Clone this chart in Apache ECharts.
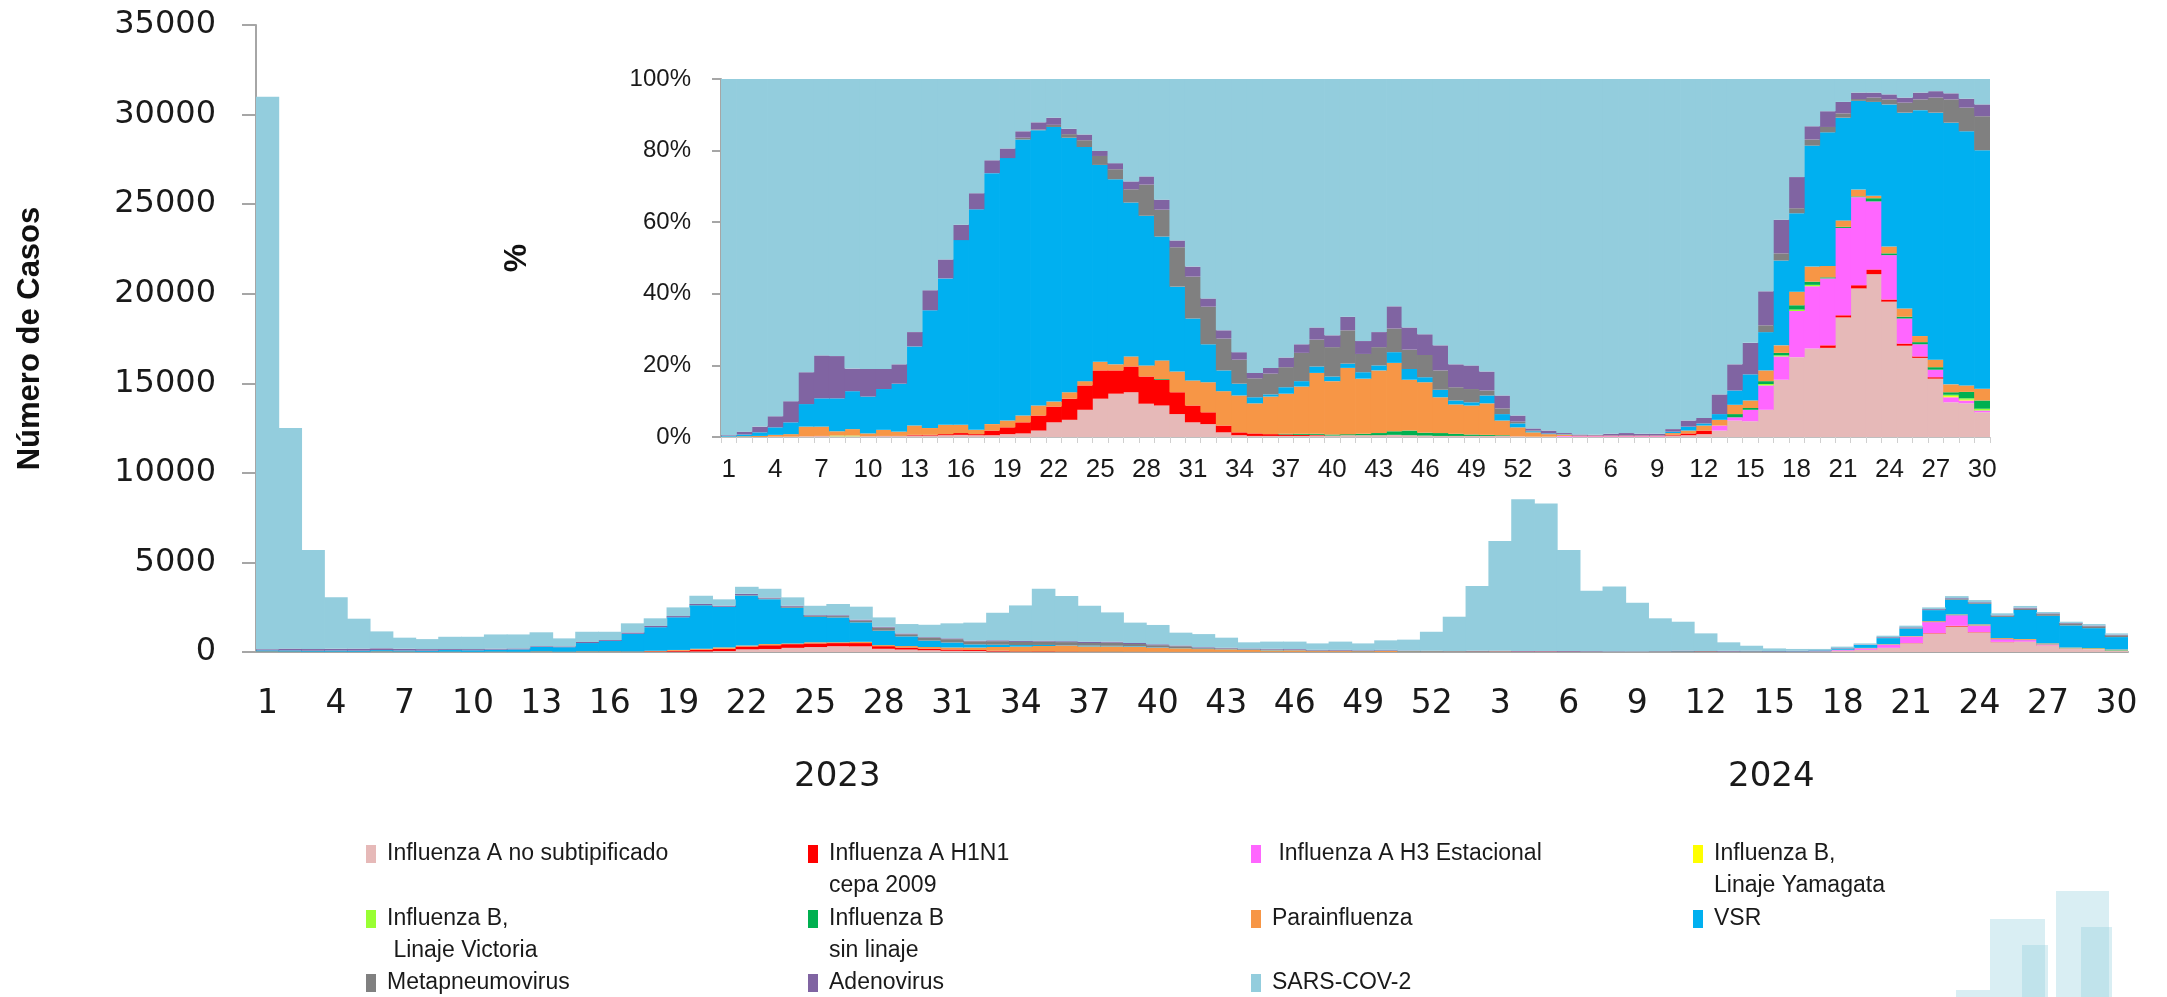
<!DOCTYPE html>
<html>
<head>
<meta charset="utf-8">
<script src="https://cdn.jsdelivr.net/npm/echarts@6/dist/echarts.min.js"></script>
<style>
  html, body { margin: 0; padding: 0; background: #fff; }
  #chart { width: 2167px; height: 997px; }
</style>
</head>
<body>
<div id="chart"></div>
<script>
// semanas epidemiologicas: 2023 (1-52) y 2024 (1-30)
var weeks = [
  '1','2','3','4','5','6','7','8','9','10','11','12','13','14','15','16','17','18','19','20',
  '21','22','23','24','25','26','27','28','29','30','31','32','33','34','35','36','37','38','39','40',
  '41','42','43','44','45','46','47','48','49','50','51','52',
  '1','2','3','4','5','6','7','8','9','10','11','12','13','14','15','16','17','18','19','20',
  '21','22','23','24','25','26','27','28','29','30'
];

// total de casos por semana (grafico principal)
var totals = [
  31000,12500,5700,3050,1860,1150,800,720,850,850,
  980,980,1100,760,1130,1130,1600,1880,2490,3140,
  2940,3640,3530,3050,2580,2680,2530,1930,1560,1520,
  1600,1640,2190,2600,3530,3120,2580,2210,1640,1510,
  1080,1000,800,540,580,580,480,580,480,650,
  690,1130,1970,3680,6190,8530,8290,5690,3420,3660,
  2750,1880,1690,1040,540,350,200,170,170,300,
  480,910,1470,2490,3120,2900,2160,2570,2230,1690,
  1560,1040
];

// porcentaje de cada virus por semana (grafico pequeño)
var pctFluANoSub = [
  0,0,0,0.1,0.1,0.2,0.3,0.2,0.2,0.2,
  0.3,0.3,0.4,0.4,0.5,0.6,0.5,0.5,0.8,1.0,
  1.8,4.1,4.8,7.6,10.7,12.1,12.5,9.3,8.8,6.4,
  4.1,3.6,1.3,0.5,0.3,0.3,0.3,0.3,0.4,0.4,
  0.5,0.5,0.5,0.6,0.5,0.4,0.3,0.3,0.3,0.3,
  0.3,0.2,0.1,0.1,0.1,0,0,0,0,0,
  0,0.4,0.5,0.8,1.8,4.6,4.4,7.6,16.0,22.3,
  24.7,24.9,33.4,41.5,45.5,37.8,25.5,22.1,16.3,9.7,
  9.4,6.9
];
var pctH1N1 = [
  0,0,0,0,0,0,0,0,0,0,
  0,0,0.2,0.2,0.3,0.5,0.3,1.3,1.9,3.1,
  4.2,4.4,5.9,6.8,7.9,6.5,7.2,7.6,7.2,6.1,
  4.7,3.3,1.9,0.8,0.7,0.5,0.4,0.3,0.2,0,
  0,0,0,0,0,0,0,0,0,0,
  0,0,0,0,0,0,0,0,0,0,
  0,0.2,0.5,1.0,0,0,0,0,0,0,
  0,0.7,0.6,0.9,1.3,0.6,0.6,0.4,0.4,0,
  0,0
];
var pctH3 = [
  0,0,0,0,0,0,0,0,0,0,
  0,0,0,0,0,0,0,0,0,0,
  0,0,0,0,0,0,0,0,0,0,
  0,0,0,0,0,0,0,0,0,0,
  0,0,0,0,0,0,0,0,0,0,
  0,0,0,0,0.2,0.2,0.2,0.2,0.2,0.2,
  0.2,0,0,0,1.4,0.9,3.2,6.8,6.5,12.9,
  17.4,18.7,24.4,24.6,19.0,12.4,7.0,3.4,2.1,1.4,
  0.8,0.5
];
var pctBYamagata = [
  0,0,0,0,0,0,0,0,0,0,
  0,0,0,0,0,0,0,0,0,0,
  0,0,0,0,0,0,0,0,0,0,
  0,0,0,0,0,0,0,0,0,0,
  0,0,0,0,0,0,0,0,0,0,
  0,0,0,0,0,0,0,0,0,0,
  0,0,0,0,0,0,0,0,0,0,
  0,0,0,0,0,0,0,0,0,0.3,
  0.2,0
];
var pctBVictoria = [
  0,0,0,0,0,0,0,0.2,0.2,0,
  0,0,0,0,0,0,0,0,0,0,
  0,0,0,0,0,0,0,0,0,0,
  0,0,0,0,0,0,0,0,0,0,
  0,0,0,0,0,0,0,0,0,0,
  0,0,0,0,0,0,0,0,0,0,
  0,0,0,0,0,0,0,0.4,0.3,0.4,
  0.4,0,0,0,0,0,0,0,0,0.4,
  0.4,0.5
];
var pctBSinLinaje = [
  0,0,0,0,0,0,0,0,0,0,
  0,0,0,0,0,0,0,0,0,0,
  0,0,0,0,0,0,0,0,0.2,0,
  0,0,0,0,0,0,0.2,0.3,0.3,0.3,
  0.3,0.4,0.6,1.0,1.3,0.8,0.8,0.6,0.4,0.3,
  0.2,0,0,0,0,0,0,0,0,0,
  0,0,0,0,0,0.9,0.5,0.8,0.7,1.2,
  0.9,0.3,0.3,0.2,0.9,0.5,0.5,0.6,0.7,0.7,
  1.8,2.3
];
var pctParainfluenza = [
  0.1,0.2,0.3,0.5,0.7,2.7,2.6,1.2,1.8,0.8,
  1.7,1.2,2.6,1.9,2.6,2.3,1.2,1.8,1.9,1.9,
  2.8,1.4,1.8,1.2,2.4,1.7,2.8,3.1,5.2,5.8,
  7.0,8.4,9.6,10.3,8.4,10.5,11.2,13.2,17.0,14.9,
  18.5,15.4,17.5,19.1,14.2,14.1,10.0,8.2,8.1,8.8,
  4.1,2.5,1.2,0.7,0.4,0.2,0.2,0.2,0.2,0.2,
  0.2,0.5,0.8,1.4,1.6,2.6,2.1,3.0,2.1,3.8,
  4.2,3.2,1.8,1.9,0.7,1.9,2.3,1.7,2.1,2.2,
  1.8,3.3
];
var pctVSR = [
  0.2,0.5,1.0,2.1,3.3,6.3,7.9,9.2,10.6,10.3,
  11.4,13.4,22.1,32.9,40.9,51.6,61.6,70.1,73.3,77.1,
  76.9,76.7,71.1,65.4,55.0,51.7,43.0,41.8,34.6,23.7,
  17.3,10.6,5.8,3.3,1.7,0.6,1.8,1.5,1.8,1.3,
  1.2,1.8,1.4,3.0,3.0,1.4,2.1,1.1,0.9,2.2,
  1.8,1.1,0.3,0.2,0.1,0,0,0,0,0,
  0,0.4,1.1,0.6,1.6,4.0,7.3,10.7,23.7,21.9,
  33.8,37.3,28.7,24.8,26.2,39.7,54.7,63.1,69.0,73.1,
  71.0,66.6
];
var pctMetapneumo = [
  0,0,0,0,0,0,0,0,0,0,
  0,0,0,0,0,0,0,0,0,0.5,
  0.2,0.6,1.0,1.9,2.5,2.8,3.7,8.7,7.5,11.0,
  11.7,10.5,8.9,6.7,5.3,5.8,5.6,7.9,7.5,8.2,
  9.3,5.1,5.1,6.6,5.4,6.2,5.4,3.7,3.7,1.4,
  1.6,0.5,0.2,0,0,0,0,0,0,0,
  0,0,0,0,0,0,0,1.9,2.0,1.4,
  1.7,1.5,1.2,0.5,1.2,1.4,2.8,3.0,4.2,6.5,
  6.6,9.5
];
var pctAdenovirus = [
  0.2,0.8,1.6,3.1,5.9,8.9,12.0,11.8,6.3,7.7,
  5.6,5.4,4.0,5.6,5.3,4.3,4.5,3.6,2.7,1.8,
  2.0,2.0,1.5,1.6,1.4,1.7,2.2,2.3,2.8,1.9,
  2.8,2.3,2.3,2.1,1.5,1.6,2.7,2.4,3.4,3.3,
  3.8,3.6,4.2,6.2,6.2,5.8,7.0,6.4,6.6,5.3,
  3.6,1.7,0.6,0.8,0.3,0.3,0.2,0.5,0.7,0.5,
  0.5,0.7,1.7,1.5,5.5,7.3,8.8,9.5,9.4,8.7,
  3.7,4.4,3.2,1.8,1.4,1.4,1.4,1.9,1.8,1.7,
  2.5,3.3
];

var yTicks = [0, 5000, 10000, 15000, 20000, 25000, 30000, 35000];
var pctTicks = [0, 20, 40, 60, 80, 100];

var virusNames = [
  'Influenza A no subtipificado', 'Influenza A H1N1 cepa 2009', 'Influenza A H3 Estacional',
  'Influenza B, Linaje Yamagata', 'Influenza B, Linaje Victoria', 'Influenza B sin linaje',
  'Parainfluenza', 'VSR', 'Metapneumovirus', 'Adenovirus', 'SARS-COV-2'
];
var legendText = [
  'Influenza A no subtipificado', 'Influenza A H1N1\ncepa 2009', ' Influenza A H3 Estacional',
  'Influenza B,\nLinaje Yamagata', 'Influenza B,\n Linaje Victoria', 'Influenza B\nsin linaje',
  'Parainfluenza', 'VSR', 'Metapneumovirus', 'Adenovirus', 'SARS-COV-2'
];
var colors = ['#E6B9B8', '#FF0000', '#FF66FF', '#FFFF00', '#99FF33', '#00B050',
              '#F79646', '#00B0F0', '#808080', '#8064A2', '#93CDDD'];

var pctList = [pctFluANoSub, pctH1N1, pctH3, pctBYamagata, pctBVictoria, pctBSinLinaje,
               pctParainfluenza, pctVSR, pctMetapneumo, pctAdenovirus];

// SARS-COV-2 = resto hasta 100%
var pctSars = weeks.map(function (w, i) {
  var s = 0;
  pctList.forEach(function (a) { s += a[i]; });
  return Math.round((100 - s) * 10) / 10;
});
var allPct = pctList.concat([pctSars]);

// casos por virus = total * porcentaje
var counts = pctList.map(function (a) {
  return a.map(function (p, i) { return Math.round(totals[i] * p / 100); });
});
counts.push(totals.map(function (t, i) {
  var s = 0;
  for (var k = 0; k < pctList.length; k++) s += counts[k][i];
  return t - s;
}));

var series = [];
virusNames.forEach(function (name, k) {
  series.push({
    name: name, type: 'bar', stack: 'casos', xAxisIndex: 0, yAxisIndex: 0,
    barWidth: 23.6, itemStyle: { color: colors[k], borderWidth: 0 }, data: counts[k]
  });
});
virusNames.forEach(function (name, k) {
  series.push({
    name: name, type: 'bar', stack: 'pct', xAxisIndex: 1, yAxisIndex: 1,
    barWidth: 16.2, itemStyle: { color: colors[k], borderWidth: 0 }, data: allPct[k]
  });
});

// leyenda: 4 columnas x 3 filas
var legCols = [366, 808, 1251, 1693];
var legRows = [854, 919, 983];
var legPos = [[0,0],[1,0],[2,0],[3,0],[0,1],[1,1],[2,1],[3,1],[0,2],[1,2],[2,2]];
var legends = virusNames.map(function (name, k) {
  var twoLines = legendText[k].indexOf('\n') >= 0;
  return {
    data: [{
      name: name,
      icon: twoLines ? 'path://M0,0L10,0L10,18L0,18Z M0,49.95L0.05,49.95L0.05,50L0,50Z' : 'rect'
    }],
    left: legCols[legPos[k][0]],
    top: legRows[legPos[k][1]] - 16,
    padding: 0,
    itemWidth: 10,
    itemHeight: twoLines ? 50 : 18,
    selectedMode: false,
    formatter: function () { return legendText[k]; },
    textStyle: {
      fontFamily: 'Liberation Sans', fontSize: 23, lineHeight: 32,
      color: '#1a1a1a', padding: [0, 0, 0, 6]
    }
  };
});

var chart = echarts.init(document.getElementById('chart'));
chart.setOption({
  animation: false,
  backgroundColor: '#ffffff',
  legend: legends,
  grid: [
    { left: 256, right: 39, top: 25, bottom: 345 },
    { left: 721, right: 177, top: 79, bottom: 560 }
  ],
  xAxis: [
    {
      type: 'category', gridIndex: 0, data: weeks,
      axisLine: { lineStyle: { color: '#a6a6a6', width: 2 } },
      axisTick: { show: false },
      axisLabel: {
        interval: 2, margin: 36, color: '#1a1a1a',
        fontFamily: 'DejaVu Sans', fontSize: 33
      }
    },
    {
      type: 'category', gridIndex: 1, data: weeks,
      axisLine: { lineStyle: { color: '#bfbfbf', width: 1 } },
      axisTick: { show: true, interval: 0, length: 6, lineStyle: { color: '#d0d0d0' } },
      axisLabel: {
        interval: 2, margin: 20, color: '#1a1a1a',
        fontFamily: 'Liberation Sans', fontSize: 26
      }
    }
  ],
  yAxis: [
    {
      type: 'value', gridIndex: 0, min: yTicks[0], max: yTicks[yTicks.length - 1], interval: 5000,
      name: 'Número de Casos', nameLocation: 'middle', nameGap: 210, nameRotate: 90,
      nameTextStyle: {
        fontFamily: 'Liberation Sans', fontWeight: 'bold', fontSize: 31, color: '#111'
      },
      axisLine: { show: true, lineStyle: { color: '#a6a6a6', width: 2 } },
      axisTick: { show: true, length: 14, lineStyle: { color: '#a6a6a6', width: 2 } },
      splitLine: { show: false },
      axisLabel: {
        margin: 40, color: '#1a1a1a', fontFamily: 'DejaVu Sans', fontSize: 32,
        formatter: function (v) { return String(v); }
      }
    },
    {
      type: 'value', gridIndex: 1, min: pctTicks[0], max: pctTicks[pctTicks.length - 1], interval: 20,
      name: '%', nameLocation: 'middle', nameGap: 188, nameRotate: 90,
      nameTextStyle: { fontFamily: 'Liberation Sans', fontWeight: 'bold', fontSize: 32, color: '#111' },
      axisLine: { show: true, lineStyle: { color: '#a6a6a6', width: 2 } },
      axisTick: { show: true, length: 9, lineStyle: { color: '#a6a6a6', width: 2 } },
      splitLine: { show: false },
      axisLabel: {
        margin: 30, color: '#1a1a1a', fontFamily: 'Liberation Sans', fontSize: 24,
        formatter: '{value}%'
      }
    }
  ],
  graphic: [
    { type: 'text', left: 849 - 55, top: 760, style: { text: '2023', font: '34px "DejaVu Sans"', fill: '#1a1a1a' } },
    { type: 'text', left: 1783 - 55, top: 760, style: { text: '2024', font: '34px "DejaVu Sans"', fill: '#1a1a1a' } },
    { type: 'rect', shape: { x: 1956, y: 990, width: 34, height: 7 }, style: { fill: 'rgba(146,205,221,0.35)' }, silent: true },
    { type: 'rect', shape: { x: 1990, y: 919, width: 55, height: 78 }, style: { fill: 'rgba(146,205,221,0.35)' }, silent: true },
    { type: 'rect', shape: { x: 2022, y: 945, width: 26, height: 52 }, style: { fill: 'rgba(146,205,221,0.35)' }, silent: true },
    { type: 'rect', shape: { x: 2056, y: 891, width: 53, height: 106 }, style: { fill: 'rgba(146,205,221,0.35)' }, silent: true },
    { type: 'rect', shape: { x: 2081, y: 927, width: 31, height: 70 }, style: { fill: 'rgba(146,205,221,0.35)' }, silent: true }
  ],
  series: series
});
</script>
</body>
</html>
